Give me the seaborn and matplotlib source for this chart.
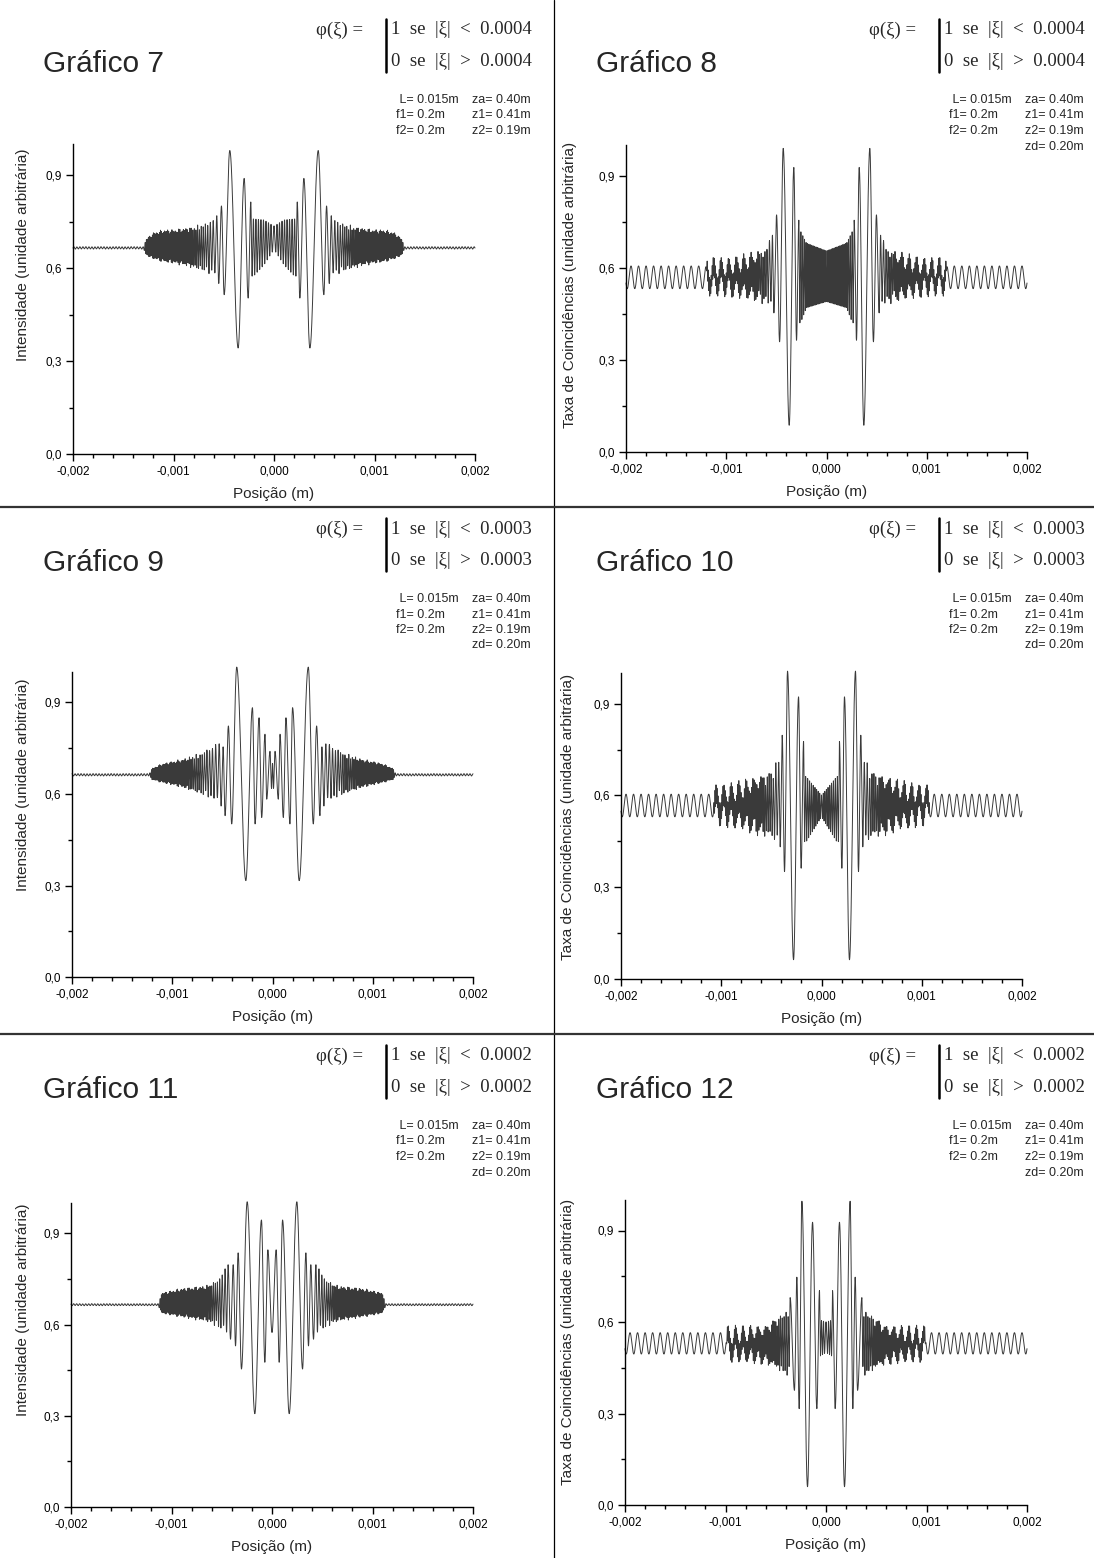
import numpy as np
import pandas as pd
import matplotlib
matplotlib.use("Agg")
import matplotlib.pyplot as plt
from matplotlib.lines import Line2D
from matplotlib.ticker import FixedLocator, FixedFormatter
import seaborn as sns

W, H = 1094, 1558
sns.set_theme(style="ticks")
plt.rcParams['font.family'] = ['Liberation Sans', 'DejaVu Sans']
SERIF = ['Liberation Serif', 'DejaVu Serif']

# ---------------- text content ----------------
TITLES = ["Gráfico 7", "Gráfico 8", "Gráfico 9", "Gráfico 10", "Gráfico 11", "Gráfico 12"]
SLIT = ["0.0004", "0.0004", "0.0003", "0.0003", "0.0002", "0.0002"]
PARAM_COL1 = [" L= 0.015m", "f1= 0.2m", "f2= 0.2m"]
PARAM_COL2 = ["za= 0.40m", "z1= 0.41m", "z2= 0.19m", "zd= 0.20m"]
HAS_ZD = [False, True, True, True, True, True]
YLAB_LEFT = "Intensidade (unidade arbitrária)"
YLAB_RIGHT = "Taxa de Coincidências (unidade arbitrária)"
XLAB = "Posição (m)"
XTICKS = [-0.002, -0.001, 0.0, 0.001, 0.002]
XTICK_LABELS = ["-0,002", "-0,001", "0,000", "0,001", "0,002"]
YTICKS = [0.0, 0.3, 0.6, 0.9]
YTICK_LABELS = ["0,0", "0,3", "0,6", "0,9"]

# ---------------- data (positive half, curves are symmetric) ----------------
# Gráfico 7 : explicit lobes + envelope of the fast fringes
P7_LOBE_X = [0.000231, 0.000257, 0.000297, 0.000357, 0.000440, 0.000496, 0.000523, 0.000550]
P7_LOBE_Y = [0.813, 0.503, 0.889, 0.342, 0.979, 0.514, 0.800, 0.550]
P7_ENV_X = [0, 0.0001, 0.0002, 0.00056, 0.0006, 0.0007, 0.0008, 0.0009, 0.001, 0.0011, 0.0012, 0.00127, 0.0013, 0.002]
P7_ENV_HI = [0.735, 0.755, 0.758, 0.775, 0.768, 0.745, 0.735, 0.730, 0.725, 0.725, 0.715, 0.695, 0.669, 0.669]
P7_ENV_LO = [0.660, 0.610, 0.575, 0.550, 0.575, 0.587, 0.597, 0.607, 0.613, 0.618, 0.628, 0.640, 0.661, 0.661]
P7_ENV_PER = [0.000025, 0.000025, 0.000025, 0.00004, 0.00003, 0.00002, 0.000015, 0.000012, 0.000011, 0.00001, 0.00001, 0.00001, 0.00003, 0.00003]

# Gráfico 8
P8_LOBE_X = [0.000276, 0.000299, 0.000326, 0.000372, 0.000432, 0.000468, 0.000498, 0.000525]
P8_LOBE_Y = [0.755, 0.364, 0.927, 0.087, 0.989, 0.359, 0.772, 0.451]
P8_ENV_X = [0, 0.0002, 0.00026, 0.00055, 0.0006, 0.0007, 0.0008, 0.001, 0.00119, 0.0012, 0.002]
P8_ENV_HI = [0.655, 0.680, 0.720, 0.720, 0.665, 0.645, 0.625, 0.605, 0.600, 0.569, 0.569]
P8_ENV_LO = [0.490, 0.470, 0.420, 0.460, 0.485, 0.500, 0.515, 0.535, 0.540, 0.569, 0.569]
P8_ENV_PER = [0.000014, 0.000014, 0.00002, 0.00003, 0.00002, 0.000014, 0.000012, 0.00001, 0.00001, 0.00003, 0.00003]
P8_SLOW_X = [0, 0.0005, 0.0008, 0.0012, 0.002]
P8_SLOW_AMP = [0.0, 0.0, 0.025, 0.037, 0.037]
P8_SLOW_PER = 0.000075

# Gráfico 9
P9_LOBE_X = [0.000025, 0.000058, 0.000075, 0.000108, 0.000134, 0.000174, 0.000200, 0.000266, 0.000357, 0.000407, 0.000440, 0.000473]
P9_LOBE_Y = [0.740, 0.583, 0.796, 0.523, 0.850, 0.502, 0.883, 0.316, 1.016, 0.502, 0.823, 0.529]
P9_ENV_X = [0, 0.0005, 0.00059, 0.00072, 0.0009, 0.001, 0.0011, 0.0012, 0.00123, 0.002]
P9_ENV_HI = [0.70, 0.774, 0.769, 0.735, 0.715, 0.708, 0.700, 0.685, 0.667, 0.667]
P9_ENV_LO = [0.62, 0.540, 0.580, 0.597, 0.620, 0.628, 0.636, 0.646, 0.659, 0.659]
P9_ENV_PER = [0.00003, 0.00004, 0.00003, 0.00002, 0.000012, 0.000011, 0.00001, 0.00001, 0.00003, 0.00003]

# Gráfico 10
P10_LOBE_X = [0.000179, 0.000203, 0.000229, 0.000279, 0.000339, 0.000369, 0.000392, 0.000412]
P10_LOBE_Y = [0.776, 0.362, 0.922, 0.063, 1.006, 0.351, 0.797, 0.433]
P10_ENV_X = [0, 0.00015, 0.00043, 0.0005, 0.0006, 0.0008, 0.001, 0.00107, 0.00108, 0.002]
P10_ENV_HI = [0.600, 0.660, 0.726, 0.680, 0.660, 0.625, 0.605, 0.600, 0.567, 0.567]
P10_ENV_LO = [0.530, 0.450, 0.433, 0.460, 0.475, 0.510, 0.530, 0.535, 0.567, 0.567]
P10_ENV_PER = [0.000014, 0.00002, 0.00003, 0.00002, 0.000014, 0.000011, 0.00001, 0.00001, 0.00003, 0.00003]
P10_SLOW_X = [0, 0.0004, 0.0007, 0.00108, 0.002]
P10_SLOW_AMP = [0.0, 0.0, 0.025, 0.037, 0.037]
P10_SLOW_PER = 0.000075

# Gráfico 11
P11_LOBE_X = [0.0, 0.0000415, 0.0000714, 0.000105, 0.000171, 0.000247, 0.000304, 0.000337, 0.000363, 0.000386, 0.000413, 0.000437]
P11_LOBE_Y = [0.574, 0.846, 0.476, 0.944, 0.307, 1.004, 0.454, 0.836, 0.530, 0.797, 0.552, 0.797]
P11_ENV_X = [0, 0.00046, 0.00055, 0.00065, 0.00091, 0.0011, 0.00113, 0.002]
P11_ENV_HI = [0.70, 0.792, 0.750, 0.730, 0.720, 0.705, 0.669, 0.669]
P11_ENV_LO = [0.62, 0.563, 0.593, 0.608, 0.624, 0.636, 0.662, 0.662]
P11_ENV_PER = [0.00003, 0.00003, 0.00002, 0.000014, 0.00001, 0.00001, 0.00003, 0.00003]

# Gráfico 12
P12_LOBE_X = [0.000065, 0.000091, 0.000134, 0.000184, 0.000240, 0.000267, 0.000290, 0.000314, 0.000357]
P12_LOBE_Y = [0.703, 0.316, 0.927, 0.060, 0.996, 0.316, 0.747, 0.376, 0.680]
P12_ENV_X = [0, 0.0004, 0.0005, 0.0006, 0.0008, 0.00098, 0.001, 0.002]
P12_ENV_HI = [0.600, 0.640, 0.610, 0.580, 0.565, 0.560, 0.530, 0.530]
P12_ENV_LO = [0.500, 0.420, 0.450, 0.470, 0.490, 0.500, 0.530, 0.530]
P12_ENV_PER = [0.00002, 0.00002, 0.000014, 0.000012, 0.00001, 0.00001, 0.00003, 0.00003]
P12_SLOW_X = [0, 0.0004, 0.0007, 0.001, 0.002]
P12_SLOW_AMP = [0.0, 0.0, 0.022, 0.035, 0.035]
P12_SLOW_PER = 0.000075

# beat modulation of the fast fringes outside the main lobes:
# (depth1, period1, depth2, period2)
BEAT = [(0.15, 0.000037, 0.12, 0.000061)] * 6

PANELS = [
    dict(lx=P7_LOBE_X, ly=P7_LOBE_Y, ex=P7_ENV_X, hi=P7_ENV_HI, lo=P7_ENV_LO, per=P7_ENV_PER),
    dict(lx=P8_LOBE_X, ly=P8_LOBE_Y, ex=P8_ENV_X, hi=P8_ENV_HI, lo=P8_ENV_LO, per=P8_ENV_PER,
         sx=P8_SLOW_X, sa=P8_SLOW_AMP, sp=P8_SLOW_PER),
    dict(lx=P9_LOBE_X, ly=P9_LOBE_Y, ex=P9_ENV_X, hi=P9_ENV_HI, lo=P9_ENV_LO, per=P9_ENV_PER),
    dict(lx=P10_LOBE_X, ly=P10_LOBE_Y, ex=P10_ENV_X, hi=P10_ENV_HI, lo=P10_ENV_LO, per=P10_ENV_PER,
         sx=P10_SLOW_X, sa=P10_SLOW_AMP, sp=P10_SLOW_PER),
    dict(lx=P11_LOBE_X, ly=P11_LOBE_Y, ex=P11_ENV_X, hi=P11_ENV_HI, lo=P11_ENV_LO, per=P11_ENV_PER),
    dict(lx=P12_LOBE_X, ly=P12_LOBE_Y, ex=P12_ENV_X, hi=P12_ENV_HI, lo=P12_ENV_LO, per=P12_ENV_PER,
         sx=P12_SLOW_X, sa=P12_SLOW_AMP, sp=P12_SLOW_PER),
]

# ---------------- layout (pixels) ----------------
AX_BOX = [(73, 144, 475, 454), (626, 145, 1027, 452),
          (72, 672, 473, 977), (621, 673, 1022, 979),
          (71, 1203, 473, 1507), (625, 1200, 1027, 1505)]
ROW_BASE = [8, 507, 1034]
COL_OFF = [0, 553]
YLAB_POS = [(23, 255), (570, 285), (23, 785), (568, 817), (23, 1310), (568, 1342)]


def _fn(xk, vk):
    return lambda x: float(np.interp(x, xk, vk))


def _run(x0, x1, start_hi, hi, lo, per, beat=None):
    pts = []
    s = 1 if x1 > x0 else -1
    x, h = x0, start_hi
    while True:
        x += s * per(x) / 2.0
        if (x - x1) * s >= 0:
            break
        yh, yl = hi(x), lo(x)
        if beat is not None:
            d1, p1, d2, p2 = beat
            m = (1 - d1 * (0.5 + 0.5 * np.cos(2 * np.pi * x / p1))
                 - d2 * (0.5 + 0.5 * np.cos(2 * np.pi * x / p2)))
            mid, half = (yh + yl) / 2, (yh - yl) / 2 * m
            yh, yl = mid + half, mid - half
        pts.append((x, yh if h else yl, h))
        h = not h
    return pts


def _mirror(pos):
    neg = [(-x, y) for (x, y) in reversed(pos) if x > 1e-12]
    return neg + pos


def _eval(pts, xg):
    ex = np.array([p[0] for p in pts])
    ey = np.array([p[1] for p in pts])
    i = np.clip(np.searchsorted(ex, xg) - 1, 0, len(ex) - 2)
    t = np.clip((xg - ex[i]) / (ex[i + 1] - ex[i]), 0, 1)
    return ey[i] + (ey[i + 1] - ey[i]) * (1 - np.cos(np.pi * t)) / 2


def build_curve(p, xg, beat):
    hi, lo, per = _fn(p['ex'], p['hi']), _fn(p['ex'], p['lo']), _fn(p['ex'], p['per'])
    lx, ly = p['lx'], p['ly']
    first_hi = ly[0] > ly[1]
    last_hi = ly[-1] > ly[-2]
    inner = _run(lx[0], 0.0, not first_hi, hi, lo, per)[::-1] if lx[0] > 0 else []
    pos = []
    if inner:
        x0, y0, h0 = inner[0]
        if x0 < per(0) / 4:
            inner[0] = (0.0, y0, h0)
        else:
            inner.insert(0, (0.0, lo(0) if h0 else hi(0), not h0))
    pos += [(a, b) for a, b, _ in inner]
    pos += list(zip(lx, ly))
    pos += [(a, b) for a, b, _ in _run(lx[-1], 0.0021, not last_hi, hi, lo, per, beat)]
    y = _eval(_mirror(pos), xg)
    if 'sx' in p:
        amp = _fn(p['sx'], p['sa'])
        sp = p['sp']
        spts = [(0.0, amp(0.0))] + [(a, b) for a, b, _ in
                                    _run(0.0, 0.0021, False, amp, lambda v: -amp(v), lambda v: sp)]
        y = y + _eval(_mirror(spts), xg)
    return y


def fx(px):
    return px / W


def fy(py):
    return 1 - py / H


fig = plt.figure(figsize=(W / 100, H / 100), dpi=100)
fig.patch.set_facecolor('white')

xg = np.linspace(-0.002, 0.002, 40001)

for k, p in enumerate(PANELS):
    l, t, r, b = AX_BOX[k]
    ax = fig.add_axes([fx(l), fy(b), (r - l) / W, (b - t) / H])
    yv = build_curve(p, xg, BEAT[k])
    df = pd.DataFrame({'pos': xg, 'val': yv})
    sns.lineplot(data=df, x='pos', y='val', ax=ax, color='#3a3a3a', linewidth=0.7,
                 estimator=None, errorbar=None, sort=False)
    for ln in ax.lines:
        ln.set_clip_on(False)
    ax.set_xlim(-0.002, 0.002)
    ax.set_ylim(0, 1.0)
    ax.set_xlabel('')
    ax.set_ylabel('')
    for sp_ in ['top', 'right']:
        ax.spines[sp_].set_visible(False)
    for sp_ in ['left', 'bottom']:
        ax.spines[sp_].set_linewidth(1.0)
        ax.spines[sp_].set_color('black')
    ax.xaxis.set_major_locator(FixedLocator(XTICKS))
    ax.xaxis.set_major_formatter(FixedFormatter(XTICK_LABELS))
    ax.xaxis.set_minor_locator(FixedLocator(list(np.arange(-0.002, 0.00201, 0.0002))))
    ax.yaxis.set_major_locator(FixedLocator(YTICKS))
    ax.yaxis.set_major_formatter(FixedFormatter(YTICK_LABELS))
    ax.yaxis.set_minor_locator(FixedLocator([0.15, 0.45, 0.75]))
    ax.tick_params(which='major', direction='out', length=5, width=1.0, color='black',
                   labelsize=8.5, labelcolor='black', pad=3)
    ax.tick_params(which='minor', direction='out', length=3, width=1.0, color='black')
    ax.set_facecolor('none')

    row, col = k // 2, k % 2
    base = ROW_BASE[row]
    off = COL_OFF[col]
    # x label
    fig.text(fx((l + r) / 2), fy(b + 40), XLAB, ha='center', va='center', fontsize=11)
    # y label
    yx, yy = YLAB_POS[k]
    fig.text(fx(yx), fy(yy), YLAB_LEFT if col == 0 else YLAB_RIGHT, rotation=90,
             ha='center', va='center', fontsize=11)
    # title
    fig.text(fx(43 + off), fy(base + 56), TITLES[k], ha='left', va='center', fontsize=21.5)
    # formula
    fig.text(fx(316 + off), fy(base + 22), "φ(ξ) =", ha='left', va='center', fontsize=13.5,
             family=SERIF)
    fig.text(fx(391 + off), fy(base + 22), f"1  se  |ξ|  <  {SLIT[k]}", ha='left', va='center',
             fontsize=13.5, family=SERIF)
    fig.text(fx(391 + off), fy(base + 53), f"0  se  |ξ|  >  {SLIT[k]}", ha='left', va='center',
             fontsize=13.5, family=SERIF)
    fig.add_artist(Line2D([fx(386 + off)] * 2, [fy(base + 11), fy(base + 64)], color='black',
                          lw=1.8, transform=fig.transFigure))
    # parameters
    for i, s in enumerate(PARAM_COL1):
        fig.text(fx(396 + off), fy(base + 92 + 15.5 * i), s, ha='left', va='center', fontsize=9)
    n2 = 4 if HAS_ZD[k] else 3
    for i, s in enumerate(PARAM_COL2[:n2]):
        fig.text(fx(472 + off), fy(base + 92 + 15.5 * i), s, ha='left', va='center', fontsize=9)

# divider lines
fig.add_artist(Line2D([fx(554)] * 2, [0, 1], color='black', lw=0.9, transform=fig.transFigure))
for yy in [507, 1034]:
    fig.add_artist(Line2D([0, 1], [fy(yy)] * 2, color='#333333', lw=1.6, transform=fig.transFigure))

fig.savefig('out.png', dpi=100, facecolor='white')
